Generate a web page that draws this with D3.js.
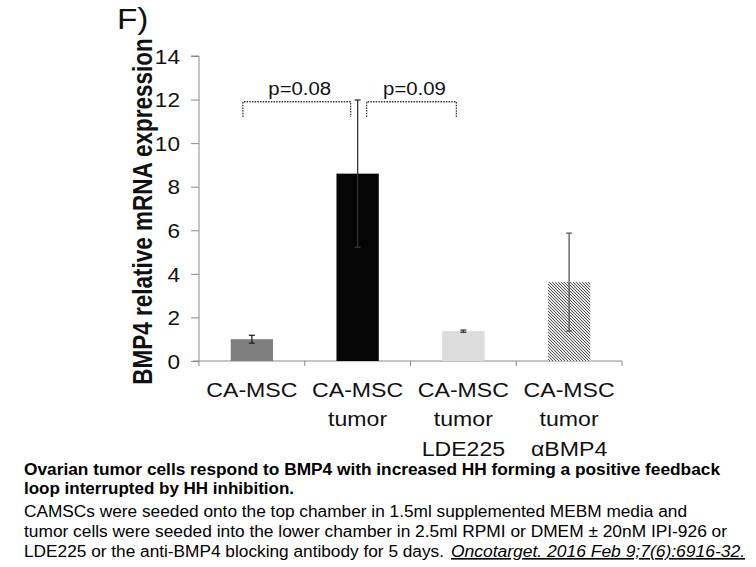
<!DOCTYPE html>
<html><head><meta charset="utf-8">
<script src="https://cdn.jsdelivr.net/npm/d3@7"></script>
<style>
html,body{margin:0;padding:0;background:#fff;}
svg{display:block;}
</style></head>
<body>
<svg id="chart" width="756" height="567"></svg>
<script>
const categories = ["CA-MSC", "CA-MSC tumor", "CA-MSC tumor LDE225", "CA-MSC tumor αBMP4"];
const categoryLines = [["CA-MSC"], ["CA-MSC", "tumor"], ["CA-MSC", "tumor", "LDE225"], ["CA-MSC", "tumor", "αBMP4"]];
const values = [1.0, 8.6, 1.37, 3.62];
const errors = [0.18, 3.38, 0.05, 2.25];
const yTicks = [0, 2, 4, 6, 8, 10, 12, 14];
const comparisons = [
  { from: 0, to: 1, label: "p=0.08", top: 11.9, bottom: 11.2, labelY: 12.2 },
  { from: 1, to: 2, label: "p=0.09", top: 11.9, bottom: 11.2, labelY: 12.2 }
];
const yLabel = "BMP4 relative mRNA expression";
const panelLabel = "F)";
const captionBold = ["Ovarian tumor cells respond to BMP4 with increased HH forming a positive feedback",
                     "loop interrupted by HH inhibition."];
const captionText = ["CAMSCs were seeded onto the top chamber in 1.5ml supplemented MEBM media and",
                     "tumor cells were seeded into the lower chamber in 2.5ml RPMI or DMEM ± 20nM IPI-926 or",
                     "LDE225 or the anti-BMP4 blocking antibody for 5 days. "];
const citation = "Oncotarget. 2016 Feb 9;7(6):6916-32.";

const barFills = ["#7f7f7f", "#050505", "#dcdcdc", "url(#hatch)"];
const errColors = ["#222", "#333", "#333", "#555"];

const svg = d3.select("#chart");
const font = "'Liberation Sans', Arial, sans-serif";
const hs = (cx, k) => `translate(${cx},0) scale(${k},1) translate(${-cx},0)`;

const defs = svg.append("defs");
const pat = defs.append("pattern").attr("id", "hatch").attr("patternUnits", "userSpaceOnUse")
  .attr("width", 3).attr("height", 3);
pat.append("rect").attr("width", 3).attr("height", 3).attr("fill", "#e6e6e6");
pat.append("path").attr("d", "M-1,-1 L4,4 M-1,2 L1,4 M2,-1 L4,1").attr("stroke", "#4a4a4a").attr("stroke-width", 0.9);

const x = d3.scaleBand().domain(categories).range([199, 622]).paddingInner(0.6).paddingOuter(0.3);
const y = d3.scaleLinear().domain([0, 14]).range([361, 56]);

// Panel label
svg.append("text").attr("x", 117).attr("y", 29).attr("font-family", font).attr("font-size", 29)
  .attr("fill", "#111").attr("transform", hs(117, 1.15)).text(panelLabel);

// y axis
const yAxis = d3.axisLeft(y).tickValues(yTicks).tickSize(8).tickPadding(11).tickFormat(d3.format("d"));
const gy = svg.append("g").attr("transform", "translate(199,0)").call(yAxis);
gy.select(".domain").attr("stroke", "#8a8a8a").attr("d", `M-8,${y(14)}H0V${y(0)}`);
gy.selectAll(".tick line").attr("stroke", "#8a8a8a");
gy.selectAll(".tick text").attr("font-family", font).attr("font-size", 20).attr("fill", "#111")
  .attr("dy", "0.36em").attr("transform", hs(-19, 1.13));

// x axis
const gx = svg.append("g").attr("transform", `translate(0,${y(0)})`);
gx.append("line").attr("x1", 193).attr("x2", 622).attr("y1", 0).attr("y2", 0).attr("stroke", "#8a8a8a");
const step = x.step();
const boundaries = d3.range(categories.length + 1).map(i => x.range()[0] + i * step);
gx.selectAll(".xt").data(boundaries).join("line").attr("class", "xt")
  .attr("x1", d => d).attr("x2", d => d).attr("y1", 0).attr("y2", 5).attr("stroke", "#8a8a8a");

// y label
svg.append("text").attr("transform", `translate(152,${(y(0)+y(14))/2 + 3}) scale(1.2,1) rotate(-90)`)
  .attr("text-anchor", "middle").attr("font-family", font).attr("font-weight", "bold")
  .attr("font-size", 22.5).attr("fill", "#111").text(yLabel);

// bars
svg.selectAll(".bar").data(values).join("rect").attr("class", "bar")
  .attr("x", (d, i) => x(categories[i])).attr("width", x.bandwidth())
  .attr("y", d => y(d)).attr("height", d => y(0) - y(d))
  .attr("fill", (d, i) => barFills[i]);

// error bars
const eb = svg.selectAll(".err").data(values).join("g").attr("class", "err")
  .attr("stroke", (d, i) => errColors[i]).attr("stroke-width", 1.3);
eb.append("line").attr("x1", (d, i) => x(categories[i]) + x.bandwidth()/2)
  .attr("x2", (d, i) => x(categories[i]) + x.bandwidth()/2)
  .attr("y1", (d, i) => y(d + errors[i])).attr("y2", (d, i) => y(d - errors[i]));
[1, -1].forEach(s => {
  eb.append("line").attr("x1", (d, i) => x(categories[i]) + x.bandwidth()/2 - 3)
    .attr("x2", (d, i) => x(categories[i]) + x.bandwidth()/2 + 3)
    .attr("y1", (d, i) => y(d + s*errors[i])).attr("y2", (d, i) => y(d + s*errors[i]));
});

// comparison brackets
comparisons.forEach(c => {
  const cx0 = x(categories[c.from]) + x.bandwidth()/2 + (c.from === 0 ? -9 : 9);
  const cx1 = x(categories[c.to]) + x.bandwidth()/2 - 7;
  svg.append("path").attr("d", `M${cx0},${y(c.bottom)}V${y(c.top)}H${cx1}V${y(c.bottom)}`)
    .attr("fill", "none").attr("stroke", "#333").attr("stroke-width", 1.3).attr("stroke-dasharray", "1.5,1.2");
  const tx = (cx0 + cx1)/2 + 3;
  svg.append("text").attr("x", tx).attr("y", y(c.labelY)).attr("text-anchor", "middle")
    .attr("font-family", font).attr("font-size", 18.5).attr("fill", "#111")
    .attr("transform", hs(tx, 1.1)).text(c.label);
});

// x labels
categoryLines.forEach((lines, i) => {
  const cx = x(categories[i]) + x.bandwidth()/2;
  const t = svg.append("text").attr("text-anchor", "middle").attr("font-family", font)
    .attr("font-size", 21).attr("fill", "#111").attr("transform", hs(cx, 1.1));
  lines.forEach((l, j) => {
    t.append("tspan").attr("x", cx).attr("y", 397 + j * 29.5).text(l);
  });
});

// caption
const capFont = "'Liberation Sans Narrow', 'Arial Narrow', 'Liberation Sans', Arial, sans-serif";
const capX = 24;
const boldY = [475, 494];
const boldW = [696, 270];
captionBold.forEach((l, i) => {
  svg.append("text").attr("x", capX).attr("y", boldY[i]).attr("font-family", capFont)
    .attr("font-weight", "bold").attr("font-size", 16).attr("fill", "#000")
    .attr("textLength", boldW[i]).attr("lengthAdjust", "spacingAndGlyphs").text(l);
});
const normY = [517, 537, 557];
const normW = [663, 703, 420];
captionText.forEach((l, i) => {
  svg.append("text").attr("x", capX).attr("y", normY[i]).attr("font-family", capFont)
    .attr("font-size", 16).attr("fill", "#000")
    .attr("textLength", normW[i]).attr("lengthAdjust", "spacingAndGlyphs").text(l);
});
svg.append("text").attr("x", 451).attr("y", 557).attr("font-family", capFont)
  .attr("font-size", 16).attr("font-style", "italic").attr("text-decoration", "underline")
  .attr("fill", "#000").attr("textLength", 294).attr("lengthAdjust", "spacingAndGlyphs").text(citation);
</script>
</body></html>
